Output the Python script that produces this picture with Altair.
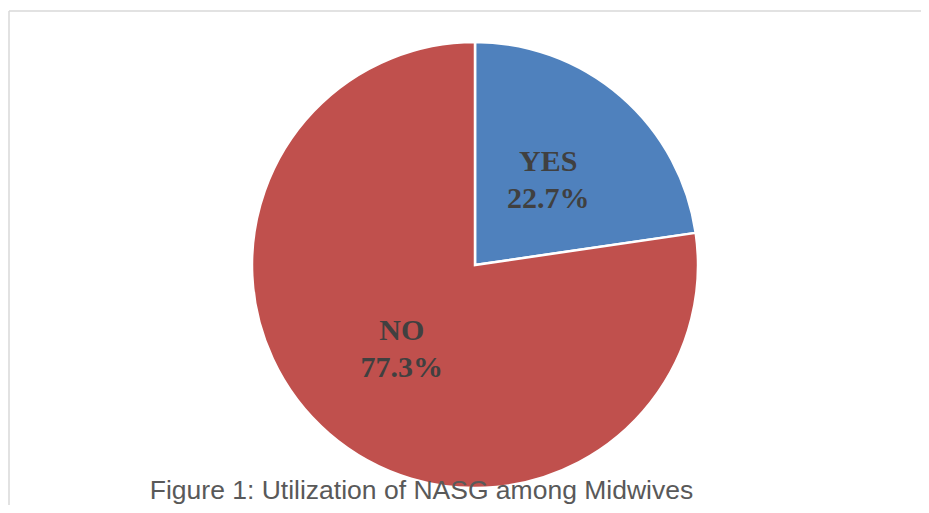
import altair as alt
import pandas as pd

categories = ["YES", "NO"]
values = [22.7, 77.3]
pct_labels = ["22.7%", "77.3%"]
colors = ["#4F81BD", "#C0504D"]
caption = "Figure 1: Utilization of NASG among Midwives"

df = pd.DataFrame({"category": categories, "value": values, "pct": pct_labels, "order": list(range(len(categories)))})

CX, CY, R = 467, 257, 223

base = alt.Chart(df).encode(
    theta=alt.Theta("value:Q", stack=True),
    order=alt.Order("order:Q"),
)

arcs = base.mark_arc(outerRadius=R, stroke="white", strokeWidth=2.5).encode(
    color=alt.Color("category:N", scale=alt.Scale(domain=categories, range=colors), legend=None),
    x=alt.value(CX), y=alt.value(CY),
)

txt_style = dict(radius=112, font="Liberation Serif", fontWeight="bold", fontSize=30, color="#404040")
lab1 = base.mark_text(dy=-18.5, **txt_style).encode(text="category:N", x=alt.value(CX), y=alt.value(CY))
lab2 = base.mark_text(dy=18.5, **txt_style).encode(text="pct:N", x=alt.value(CX), y=alt.value(CY))

one = alt.Data(values=[{"caption": caption}])
top_rule = alt.Chart(one).mark_rule(color="#D9D9D9", strokeWidth=1.5).encode(
    x=alt.value(1), x2=alt.value(913), y=alt.value(3))
left_rule = alt.Chart(one).mark_rule(color="#D9D9D9", strokeWidth=1.5).encode(
    x=alt.value(1), y=alt.value(3), y2=alt.value(497))
cap = alt.Chart(one).mark_text(font="Liberation Sans", fontSize=26.5, color="#595959",
                               align="center", baseline="alphabetic").encode(
    text="caption:N", x=alt.value(413.5), y=alt.value(490.5))

chart = alt.layer(top_rule, left_rule, arcs, lab1, lab2, cap).properties(
    width=913, height=497,
    autosize=alt.AutoSizeParams(type="none"),
    padding=0,
).configure_view(stroke=None)

chart.save("out.html", embed_options={"renderer": "svg", "actions": False})
